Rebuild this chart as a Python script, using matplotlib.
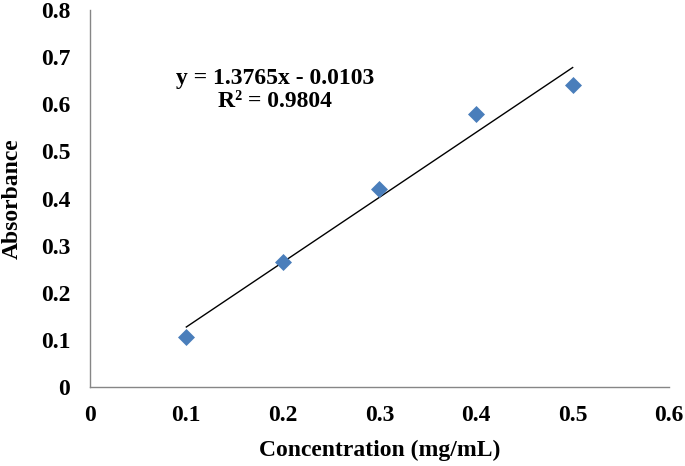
import matplotlib
matplotlib.use("Agg")
import matplotlib.pyplot as plt
import numpy as np

concentration = [0.1, 0.2, 0.3, 0.4, 0.5]
absorbance = [0.107, 0.265, 0.420, 0.580, 0.640]
slope = 1.3765
intercept = -0.0103
equation_text = "y = 1.3765x - 0.0103\nR² = 0.9804"
x_ticks = [0, 0.1, 0.2, 0.3, 0.4, 0.5, 0.6]
x_tick_labels = ["0", "0.1", "0.2", "0.3", "0.4", "0.5", "0.6"]
y_ticks = [0, 0.1, 0.2, 0.3, 0.4, 0.5, 0.6, 0.7, 0.8]
y_tick_labels = ["0", "0.1", "0.2", "0.3", "0.4", "0.5", "0.6", "0.7", "0.8"]

plt.rcParams['font.family'] = ['Liberation Serif', 'DejaVu Serif']
plt.rcParams['font.weight'] = 'bold'

fig = plt.figure(figsize=(6.85, 4.66), dpi=100)
ax = fig.add_axes([0.131, 0.1695, 0.846, 0.809])

ax.scatter(concentration, absorbance, marker='D', s=75, color='#4A7EBB', zorder=3, linewidths=0)
xfit = np.array([min(concentration), max(concentration)])
ax.plot(xfit, slope * xfit + intercept, color='black', linewidth=1.0, zorder=2)

ax.set_xlim(0, 0.6)
ax.set_ylim(0, 0.8)
ax.set_xticks(x_ticks)
ax.set_xticklabels(x_tick_labels)
ax.set_yticks(y_ticks)
ax.set_yticklabels(y_tick_labels)
ax.tick_params(length=0, labelsize=17)
ax.tick_params(axis='x', pad=13)
ax.tick_params(axis='y', pad=14)
for lbl in ax.get_xticklabels() + ax.get_yticklabels():
    lbl.set_fontweight('bold')

for s in ['top', 'right']:
    ax.spines[s].set_visible(False)
for s in ['left', 'bottom']:
    ax.spines[s].set_color('#868686')
    ax.spines[s].set_linewidth(1.0)

ax.set_xlabel("Concentration (mg/mL)", fontsize=17, fontweight='bold', labelpad=10)
ax.set_ylabel("Absorbance", fontsize=17, fontweight='bold', labelpad=13)

ax.text(0.192, 0.63, equation_text, fontsize=17, fontweight='bold', ha='center', va='center',
        linespacing=1.15)

fig.savefig("out.png", dpi=100)
